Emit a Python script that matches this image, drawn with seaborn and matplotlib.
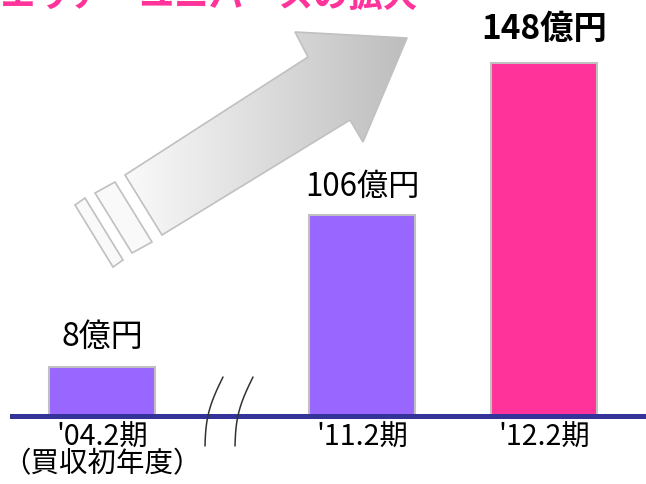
import numpy as np
import pandas as pd
import seaborn as sns
import matplotlib.pyplot as plt
from matplotlib.patches import Polygon

# data
periods = ["'04.2期\n（買収初年度）", "'11.2期", "'12.2期"]
sales = [8, 106, 148]
bar_colors = ["#9966FF", "#9966FF", "#FF3399"]
title = "販売エリア・ユニバースの拡大"

sns.set_theme(style="white")
plt.rcParams['font.family'] = ['Noto Sans CJK JP', 'DejaVu Sans']

W, H = 646, 484
fig = plt.figure(figsize=(W / 100, H / 100), dpi=100)
base = 415.5  # pixel row of the baseline

def px_axes(x0, x1):
    return fig.add_axes([x0 / W, (H - base) / H, (x1 - x0) / W, base / H])

df = pd.DataFrame({"period": periods, "sales": sales, "color": bar_colors})

# left part (before the break)
ax1 = px_axes(12, 230)
left = df.iloc[:1]
sns.barplot(data=left, x="period", y="sales", hue="period", palette=list(left["color"]),
            saturation=1, width=0.8, edgecolor="#c0c0c0", linewidth=1.5, legend=False, ax=ax1)
ax1.set_xlim(-0.679, 0.966)
ax1.set_ylim(0, 68.5)

# right part (broken axis)
ax2 = px_axes(230, 646)
right = df.iloc[1:]
sns.barplot(data=right, x="period", y="sales", hue="period", palette=list(right["color"]),
            saturation=1, width=0.584, edgecolor="#c0c0c0", linewidth=1.5, legend=False, ax=ax2)
ax2.set_xlim(-0.730, 1.562)
ax2.set_ylim(50.6, 165.4)

for ax in (ax1, ax2):
    for s in ["top", "left", "right"]:
        ax.spines[s].set_visible(False)
    ax.spines["bottom"].set_color("#333399")
    ax.spines["bottom"].set_linewidth(3.6)
    ax.set_facecolor("none")
    ax.set_xlabel("")
    ax.set_ylabel("")
    ax.set_yticks([])
    ax.tick_params(axis="x", length=0, pad=5, labelsize=20.5, labelcolor="black")
    for lbl in ax.get_xticklabels():
        lbl.set_linespacing(0.88)

# value labels
ax1.bar_label(ax1.containers[0], labels=[f"{sales[0]}億円"], padding=10, fontsize=23,
              color="black")
ax2.bar_label(ax2.containers[0], labels=[f"{sales[1]}億円"], padding=9, fontsize=22.5,
              color="black")
ax2.bar_label(ax2.containers[1], labels=[f"{sales[2]}億円"], padding=12, fontsize=24,
              fontweight="bold", color="black")

# overlay in pixel coordinates for the decorations
ov = fig.add_axes([0, 0, 1, 1])
ov.set_xlim(0, W)
ov.set_ylim(H, 0)
ov.axis("off")
ov.set_facecolor("none")

arrow = [(162, 235), (125, 175), (308, 57), (295, 32), (407, 38), (363, 142), (350, 120)]
poly = Polygon(arrow, closed=True, facecolor="none", edgecolor="#c0c0c0", lw=1.2, zorder=3)
ov.add_patch(poly)
grad = np.linspace(0, 1, 256).reshape(1, -1)
img = ov.imshow(grad, cmap=sns.blend_palette(["#fbfbfb", "#bdbdbd"], as_cmap=True),
                extent=(120, 410, 240, 30), aspect="auto", zorder=2)
img.set_clip_path(poly)
ov.set_xlim(0, W)
ov.set_ylim(H, 0)

for pts in ([(95, 193), (115, 182), (152, 242), (132, 253)],
            [(75, 205), (85, 198), (123, 260), (113, 267)]):
    ov.add_patch(Polygon(pts, closed=True, facecolor="#f9f9f9", edgecolor="#c0c0c0", lw=1.2))

# break marks
t = np.linspace(0, 1, 60)
for x0 in (223, 253):
    xs = x0 - 18 * t - 5 * np.sin(np.pi * t)
    ys = 377 + 69 * t
    ov.plot(xs, ys, color="#333333", lw=1.1)

fig.text(418 / W, 1 - 14 / H, title, ha="right", va="bottom", fontsize=25,
         fontweight="bold", color="#FF3399")

fig.savefig("out.png", dpi=100)
